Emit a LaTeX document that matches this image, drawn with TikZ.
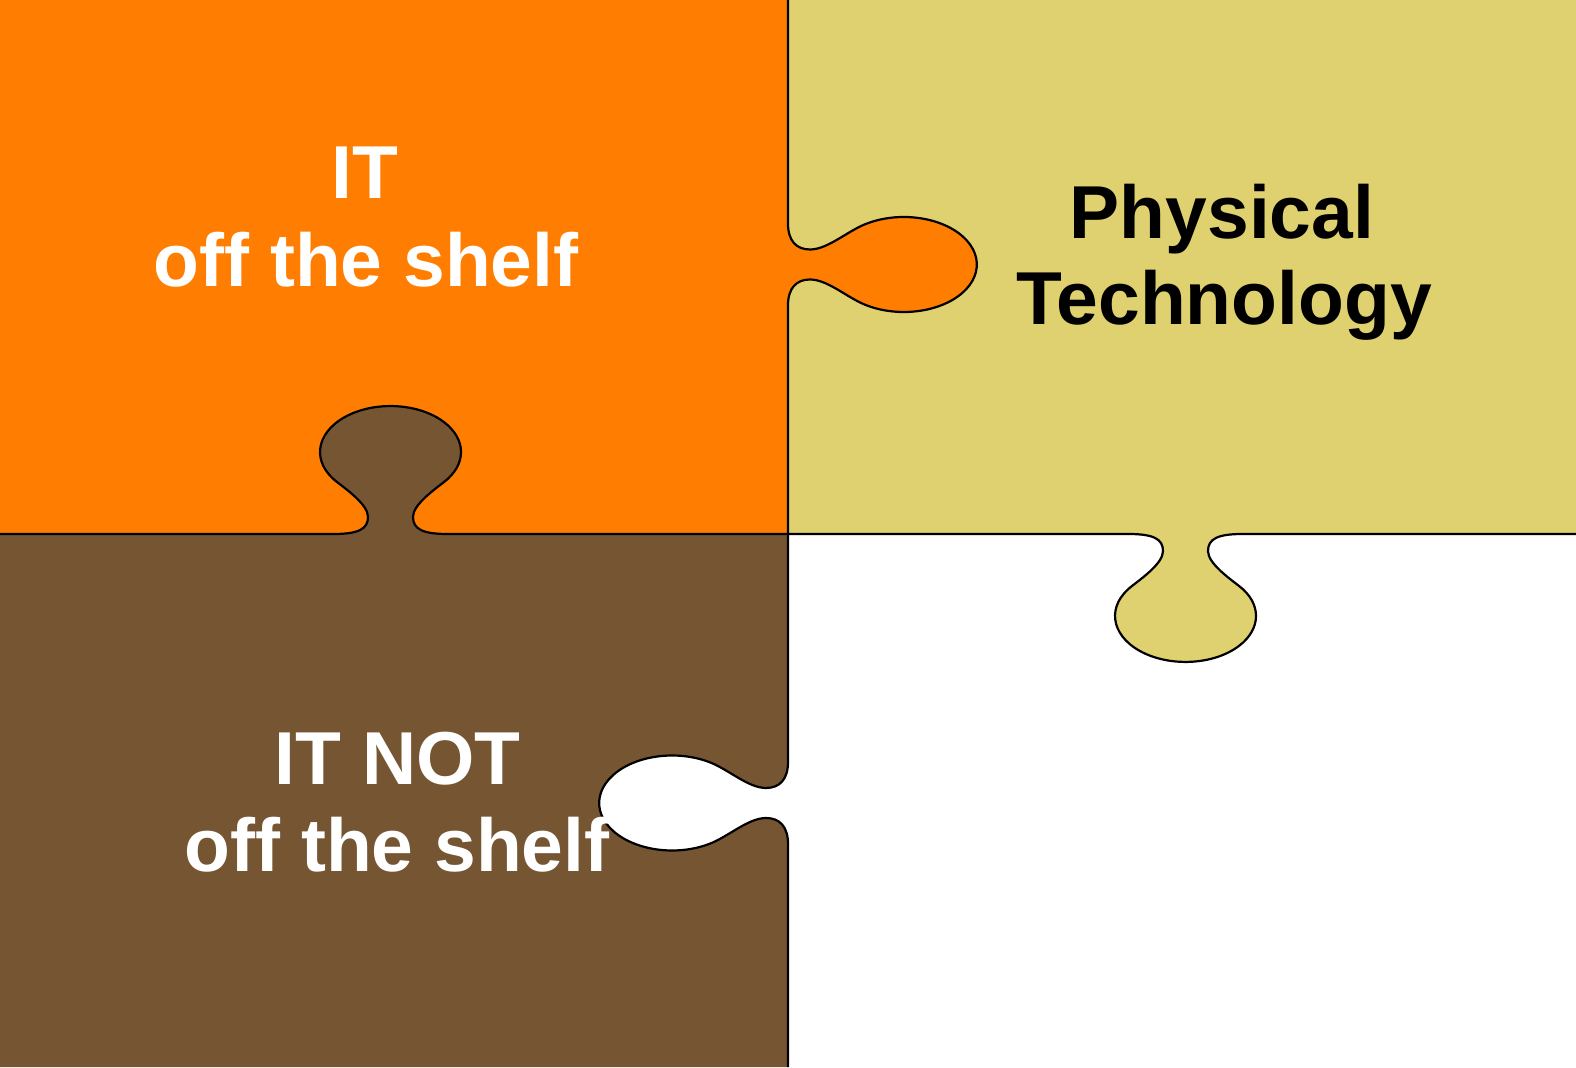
\documentclass[tikz,border=0pt]{standalone}
\usepackage{fontspec}
\setmainfont{Liberation Sans}
\usepackage{tikz}
\usetikzlibrary{positioning}
\usepackage{xcolor}

\definecolor{orangepiece}{HTML}{FF7D00}
\definecolor{yellowpiece}{HTML}{DFD16F}
\definecolor{brownpiece}{HTML}{765532}

% tab along an edge, local u along the edge, v out of it
\newcommand{\widetab}{-- (-57,0) .. controls (-32,0) and (-22.5,5) .. (-22.5,17)
  .. controls (-22.5,29) and (-42,43) .. (-53.5,52)
  arc[start angle=220.6, end angle=-40.6, x radius=70.5, y radius=46]
  .. controls (42,43) and (22.5,29) .. (22.5,17)
  .. controls (22.5,5) and (32,0) .. (57,0)}
\newcommand{\longtab}{-- (-41,0) .. controls (-24,0) and (-15,8) .. (-15,22)
  .. controls (-15,40) and (-34,60) .. (-41,79)
  arc[start angle=210.3, end angle=-30.3, x radius=47.5, y radius=73]
  .. controls (34,60) and (15,40) .. (15,22)
  .. controls (15,8) and (24,0) .. (41,0)}
\newcommand{\seamH}{(0,533) {[shift={(390.5,533)}] \widetab}
  {[shift={(1185.5,533)},yscale=-1] \widetab} -- (1576,533)}
\newcommand{\seamV}{(788,1067) {[shift={(788,802.5)},rotate=-90] \longtab}
  {[shift={(788,264)},rotate=-90,yscale=-1] \longtab} -- (788,0)}

\begin{document}
\begin{tikzpicture}[x=0.5pt, y=0.5pt,
    seam/.style={draw=black, line width=1.1pt},
    piecetext/.style={anchor=base, inner sep=0pt, font=\fontsize{37.5}{43.5}\selectfont\bfseries}]
  \useasboundingbox (0,0) rectangle (1576,1067);

  % pieces
  \fill[brownpiece] \seamV -- (0,0) -- (0,1067) -- cycle;
  \fill[yellowpiece] \seamH -- (1576,1067) -- (0,1067) -- cycle;
  \begin{scope}
    \clip \seamV -- (0,0) -- (0,1067) -- cycle;
    \fill[orangepiece] \seamH -- (1576,1067) -- (0,1067) -- cycle;
  \end{scope}

  % seams
  \draw[seam] \seamH;
  \draw[seam] \seamV;

  % labels
  \node[piecetext, text=white] (ittop) at (365,868) {IT};
  \node[piecetext, text=white] (itshelf) at (366,780.5) {off the shelf};
  \node[piecetext, text=black] (physical) at (1222,828.7) {Physical};
  \node[piecetext, text=black] (technology) at (1224,742) {Technology};
  \node[piecetext, text=white] (itnot) at (397.5,282.7) {IT NOT};
  \node[piecetext, text=white] (notshelf) at (397,195.3) {off the shelf};
\end{tikzpicture}
\end{document}
